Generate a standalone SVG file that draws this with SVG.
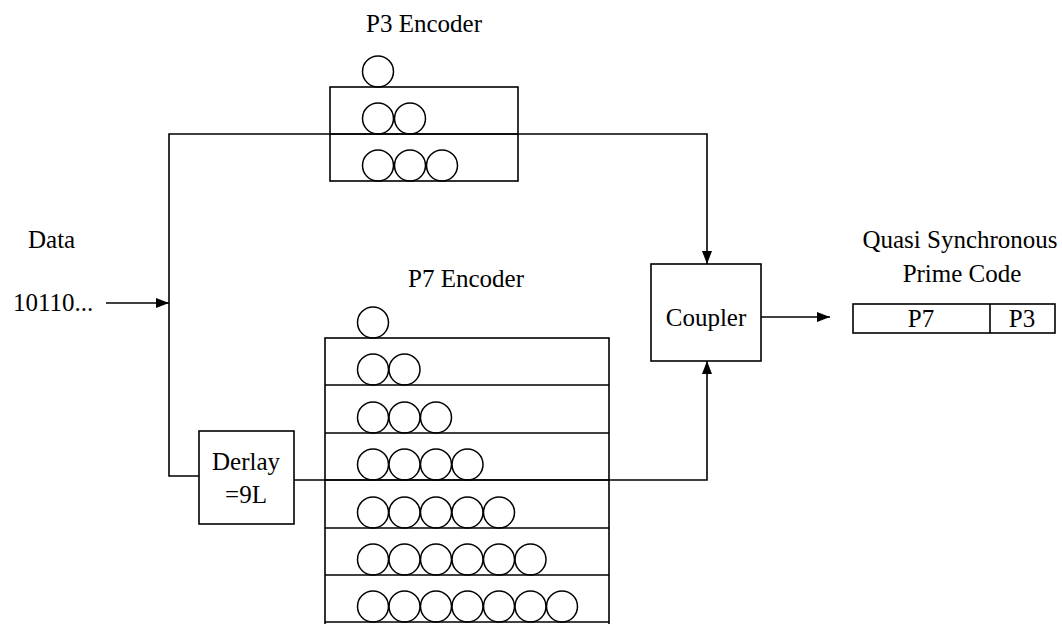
<svg xmlns="http://www.w3.org/2000/svg" width="1062" height="624" viewBox="0 0 1062 624">
<style>
.box{fill:none;stroke:#000;stroke-width:1.6}
.ln{fill:none;stroke:#000;stroke-width:1.6}
.c{fill:none;stroke:#000;stroke-width:1.5}
text{font-family:"Liberation Serif","Times New Roman",serif;font-size:25px;fill:#000}
.m{text-anchor:middle}
</style>
<defs>
<marker id="ah" markerUnits="userSpaceOnUse" markerWidth="14" markerHeight="10" refX="13" refY="5" orient="auto">
<path d="M0,0 L13,5 L0,10 Z" fill="#000"/>
</marker>
</defs>
<rect width="1062" height="624" fill="#fff"/>

<g id="p3-encoder">
<text class="m" x="424" y="32">P3 Encoder</text>
<rect class="box" x="330" y="87" width="188" height="94"/>
<line class="ln" x1="330" y1="134" x2="518" y2="134"/>
<circle class="c" cx="378" cy="71.5" r="15.5"/>
<circle class="c" cx="378" cy="118.5" r="15.5"/>
<circle class="c" cx="410" cy="118.5" r="15.5"/>
<circle class="c" cx="378" cy="165.5" r="15.5"/>
<circle class="c" cx="410" cy="165.5" r="15.5"/>
<circle class="c" cx="442" cy="165.5" r="15.5"/>
</g>

<g id="p7-encoder">
<text class="m" x="466" y="287">P7 Encoder</text>
<rect class="box" x="325" y="338" width="284" height="290"/>
<line class="ln" x1="325" y1="385" x2="609" y2="385"/>
<line class="ln" x1="325" y1="433" x2="609" y2="433"/>
<line class="ln" x1="325" y1="480" x2="609" y2="480"/>
<line class="ln" x1="325" y1="528" x2="609" y2="528"/>
<line class="ln" x1="325" y1="575" x2="609" y2="575"/>
<line class="ln" x1="325" y1="622" x2="609" y2="622"/>
<circle class="c" cx="373" cy="322.5" r="15.5"/>
<g>
<circle class="c" cx="373" cy="369.5" r="15.5"/><circle class="c" cx="404.5" cy="369.5" r="15.5"/>
</g>
<g>
<circle class="c" cx="373" cy="417.5" r="15.5"/><circle class="c" cx="404.5" cy="417.5" r="15.5"/><circle class="c" cx="436" cy="417.5" r="15.5"/>
</g>
<g>
<circle class="c" cx="373" cy="464.5" r="15.5"/><circle class="c" cx="404.5" cy="464.5" r="15.5"/><circle class="c" cx="436" cy="464.5" r="15.5"/><circle class="c" cx="467.5" cy="464.5" r="15.5"/>
</g>
<g>
<circle class="c" cx="373" cy="512.5" r="15.5"/><circle class="c" cx="404.5" cy="512.5" r="15.5"/><circle class="c" cx="436" cy="512.5" r="15.5"/><circle class="c" cx="467.5" cy="512.5" r="15.5"/><circle class="c" cx="499" cy="512.5" r="15.5"/>
</g>
<g>
<circle class="c" cx="373" cy="559.5" r="15.5"/><circle class="c" cx="404.5" cy="559.5" r="15.5"/><circle class="c" cx="436" cy="559.5" r="15.5"/><circle class="c" cx="467.5" cy="559.5" r="15.5"/><circle class="c" cx="499" cy="559.5" r="15.5"/><circle class="c" cx="530.5" cy="559.5" r="15.5"/>
</g>
<g>
<circle class="c" cx="373" cy="606.5" r="15.5"/><circle class="c" cx="404.5" cy="606.5" r="15.5"/><circle class="c" cx="436" cy="606.5" r="15.5"/><circle class="c" cx="467.5" cy="606.5" r="15.5"/><circle class="c" cx="499" cy="606.5" r="15.5"/><circle class="c" cx="530.5" cy="606.5" r="15.5"/><circle class="c" cx="562" cy="606.5" r="15.5"/>
</g>
</g>

<g id="data">
<text x="28" y="248">Data</text>
<text x="13" y="311">10110...</text>
</g>

<g id="delay">
<rect class="box" x="199" y="431" width="95" height="93"/>
<text class="m" x="246" y="470">Derlay</text>
<text class="m" x="246" y="503">=9L</text>
</g>

<g id="coupler">
<rect class="box" x="651" y="264" width="110" height="97"/>
<text class="m" x="706" y="326">Coupler</text>
</g>

<g id="output">
<text class="m" x="960" y="248">Quasi Synchronous</text>
<text class="m" x="962" y="282">Prime Code</text>
<rect class="box" x="853" y="304" width="202" height="29"/>
<line class="ln" x1="990" y1="304" x2="990" y2="333"/>
<text class="m" x="921" y="327">P7</text>
<text class="m" x="1022" y="327">P3</text>
</g>

<g id="connectors">
<line class="ln" x1="106" y1="303" x2="169" y2="303" marker-end="url(#ah)"/>
<polyline class="ln" points="199,476 169,476 169,134 707,134 707,264" marker-end="url(#ah)"/>
<polyline class="ln" points="294,480 707,480 707,361" marker-end="url(#ah)"/>
<line class="ln" x1="761" y1="317" x2="830" y2="317" marker-end="url(#ah)"/>
</g>
</svg>
